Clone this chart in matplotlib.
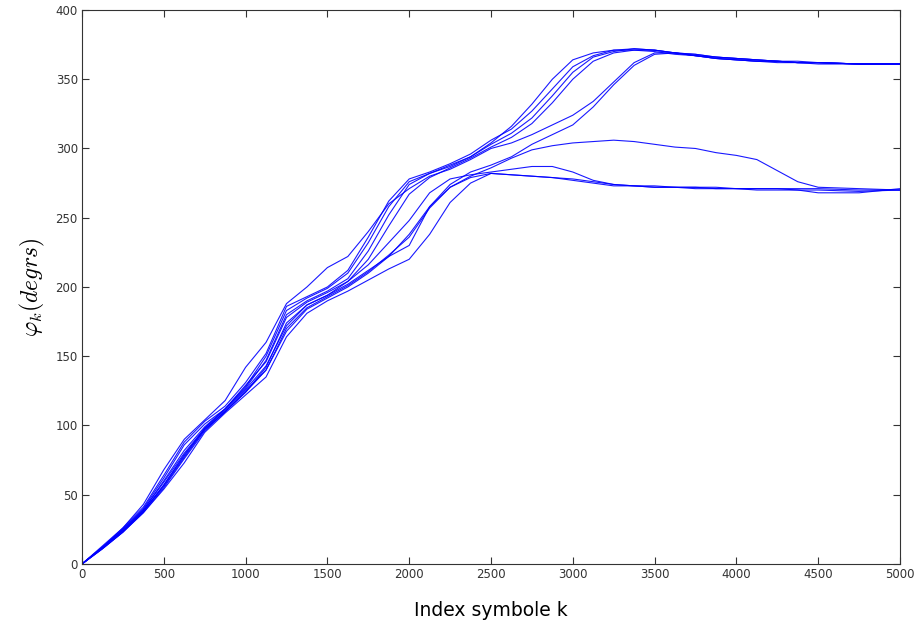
import matplotlib
matplotlib.use("Agg")
import matplotlib.pyplot as plt
import numpy as np

plt.rcParams['mathtext.fontset'] = 'cm'

# symbol index grid (shared by all runs)
k = list(range(0, 4501, 125)) + [4750, 5000]

# phase estimates (degrees), one list per run
u1 = [0, 12, 25, 40, 62, 86, 101, 112, 128, 150, 183, 192, 199, 210, 232, 258, 276, 282, 288, 294,
      304, 316, 332, 350, 364, 369, 371, 371, 370, 368, 367, 366, 365, 364, 363, 363, 362, 361, 361]
u2 = [0, 13, 26, 41, 64, 88, 103, 114, 131, 152, 186, 193, 200, 212, 236, 262, 278, 283, 289, 296,
      306, 314, 327, 343, 359, 367, 371, 372, 371, 369, 367, 365, 364, 363, 363, 362, 362, 361, 361]
u3 = [0, 12, 24, 39, 60, 82, 99, 112, 127, 147, 180, 190, 197, 206, 226, 252, 274, 282, 287, 294,
      303, 311, 322, 338, 355, 366, 370, 372, 371, 369, 367, 365, 364, 363, 363, 362, 362, 361, 361]
u4 = [0, 11, 23, 38, 57, 79, 97, 110, 124, 142, 174, 187, 194, 204, 220, 244, 267, 279, 286, 293,
      301, 308, 318, 333, 350, 363, 369, 371, 371, 369, 367, 365, 364, 363, 362, 362, 361, 361, 361]
u5 = [0, 12, 26, 43, 68, 90, 104, 118, 142, 160, 188, 200, 214, 222, 240, 260, 271, 280, 285, 292,
      300, 304, 310, 317, 324, 334, 348, 362, 369, 369, 368, 366, 365, 364, 363, 362, 362, 361, 361]
u6 = [0, 12, 24, 38, 56, 77, 97, 110, 125, 140, 168, 184, 192, 200, 210, 222, 238, 258, 274, 283,
      288, 294, 303, 310, 317, 330, 346, 360, 368, 369, 368, 366, 365, 364, 363, 362, 362, 361, 361]
l1 = [0, 11, 23, 37, 55, 76, 96, 110, 124, 140, 170, 185, 193, 201, 211, 223, 236, 257, 272, 280,
      286, 293, 299, 302, 304, 305, 306, 305, 303, 301, 300, 297, 295, 292, 284, 276, 272, 271, 270]
l2 = [0, 12, 25, 39, 59, 80, 98, 112, 129, 146, 178, 189, 196, 204, 216, 232, 248, 268, 278, 281,
      283, 285, 287, 287, 283, 277, 274, 273, 273, 272, 272, 272, 271, 271, 271, 271, 271, 270, 270]
l3 = [0, 12, 24, 38, 57, 78, 98, 111, 126, 143, 172, 187, 194, 202, 212, 222, 230, 258, 272, 279,
      282, 281, 280, 279, 277, 275, 273, 273, 272, 272, 272, 271, 271, 271, 271, 270, 270, 269, 270]
l4 = [0, 11, 23, 37, 54, 73, 95, 109, 122, 135, 164, 181, 190, 197, 205, 213, 220, 238, 261, 275,
      282, 281, 280, 279, 278, 276, 274, 273, 272, 272, 271, 271, 271, 270, 270, 270, 268, 268, 271]

runs = [u1, u2, u3, u4, u5, u6, l1, l2, l3, l4]

fig = plt.figure(figsize=(9.15, 6.24), dpi=100)
ax = fig.add_axes([0.0896, 0.0962, 0.8940, 0.8878])

for phi in runs:
    ax.plot(k, phi, color='#0000ff', lw=0.8, alpha=0.9)

ax.set_xlim(0, 5000)
ax.set_ylim(0, 400)
ax.set_xticks(np.arange(0, 5001, 500))
ax.set_yticks(np.arange(0, 401, 50))
ax.tick_params(direction='in', top=True, right=True, length=5, width=0.8,
               labelsize=8.5, colors='#333333', pad=3)
for s in ax.spines.values():
    s.set_color('#333333')
    s.set_linewidth(0.8)

ax.set_xlabel('Index symbole k', fontsize=13.5, labelpad=14)
ax.set_ylabel(r'$\varphi_k(degrs)$', fontsize=17, labelpad=6)

fig.savefig('out.png', dpi=100)
